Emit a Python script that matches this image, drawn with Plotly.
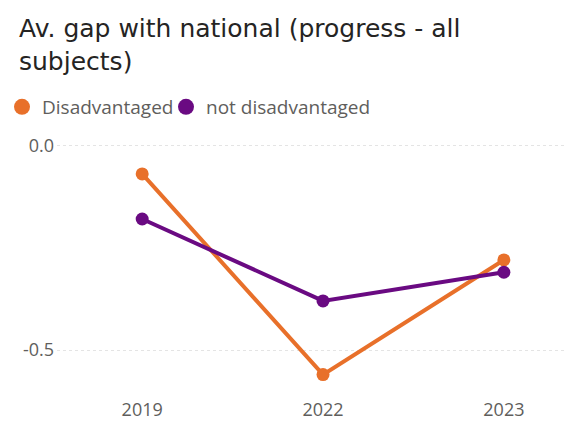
import plotly.graph_objects as go

years = ["2019", "2022", "2023"]
disadvantaged = [-0.07, -0.56, -0.28]
not_disadvantaged = [-0.18, -0.38, -0.31]
series_names = ["Disadvantaged", "not disadvantaged"]
colors = ["#E8702A", "#6A0A82"]
y_ticks = [0.0, -0.5]
y_tick_labels = ["0.0", "-0.5"]
title_text = "Av. gap with national (progress - all<br>subjects)"

# the page body has an 8px margin, so the figure is 8px smaller than the window
W, H = 564, 426
L, R, T, B = 49, 4, 125, 43
plot_w = W - L - R
plot_h = H - T - B

legend_ids = ["legend", "legend2"]
legend_left_px = [-6, 158]

fig = go.Figure()
for name, vals, col, lg in zip(series_names, [disadvantaged, not_disadvantaged], colors, legend_ids):
    fig.add_trace(go.Scatter(
        x=years, y=vals, mode="lines+markers", name=name,
        line=dict(color=col, width=4),
        marker=dict(color=col, size=13),
        showlegend=False,
    ))
    fig.add_trace(go.Scatter(
        x=[None], y=[None], mode="markers", name=name,
        marker=dict(color=col, size=16), showlegend=True, legend=lg,
    ))

fig.add_annotation(
    text=title_text, showarrow=False, align="left",
    xref="paper", x=(9 - L) / plot_w, xanchor="left",
    yref="paper", y=1 + (T - 4) / plot_h, yanchor="top",
    font=dict(family="DejaVu Sans", size=25, color="#252423"),
)

legend_common = dict(
    orientation="h", xref="paper", xanchor="left",
    y=(H - B - 99) / plot_h, yref="paper", yanchor="middle",
    font=dict(family="Open Sans", size=19, color="#605E5C"),
    itemwidth=30, borderwidth=0, bgcolor="rgba(0,0,0,0)",
)
fig.update_layout(
    width=W, height=H,
    paper_bgcolor="white", plot_bgcolor="white",
    margin=dict(l=L, r=R, t=T, b=B, autoexpand=False),
    legend=dict(x=(legend_left_px[0] - L) / plot_w, **legend_common),
    legend2=dict(x=(legend_left_px[1] - L) / plot_w, **legend_common),
    showlegend=True,
)
fig.update_xaxes(
    type="category", range=[-85 / 180.5, 2 + 64 / 180.5], showgrid=False, zeroline=False,
    showline=False, ticks="", ticklabelstandoff=6,
    tickfont=dict(family="Open Sans", size=18, color="#605E5C"),
)
fig.update_yaxes(
    range=[-0.6, 0.03], tickvals=y_ticks, ticktext=y_tick_labels,
    showgrid=True, gridcolor="#E4E4E4", griddash="dot", gridwidth=1,
    zeroline=False, showline=False, ticks="", ticklabelstandoff=2,
    tickfont=dict(family="Open Sans", size=18, color="#605E5C"),
)
fig.write_html("out.html")
